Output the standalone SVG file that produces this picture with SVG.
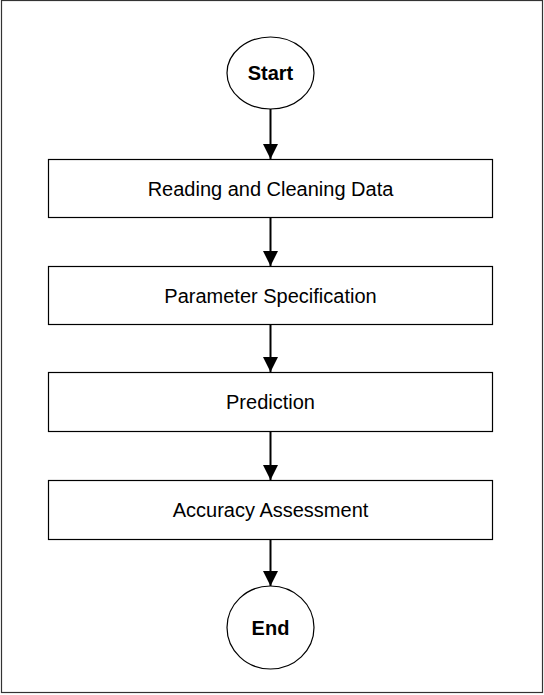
<svg xmlns="http://www.w3.org/2000/svg" width="544" height="695" viewBox="0 0 544 695">
<defs>
<style>
.frame{fill:#fff;stroke:#333;stroke-width:1.2}
.node{fill:#fff;stroke:#000;stroke-width:1.2}
.lbl{font-family:"Liberation Sans",Arial,sans-serif;font-size:20px;fill:#000;text-anchor:middle}
.bold{font-weight:bold}
.conn{stroke:#000;stroke-width:2;fill:none;marker-end:url(#ah)}
</style>
<marker id="ah" markerUnits="userSpaceOnUse" markerWidth="16" markerHeight="16" refX="15" refY="7.5" orient="auto">
<path d="M0,0 L15,7.5 L0,15 Z" fill="#000"/>
</marker>
</defs>
<rect class="frame" x="1.5" y="0.5" width="541" height="692"/>
<g id="connectors">
<line class="conn" x1="270.5" y1="109" x2="270.5" y2="159"/>
<line class="conn" x1="270.5" y1="217" x2="270.5" y2="266"/>
<line class="conn" x1="270.5" y1="324" x2="270.5" y2="372"/>
<line class="conn" x1="270.5" y1="431" x2="270.5" y2="480"/>
<line class="conn" x1="270.5" y1="539" x2="270.5" y2="586"/>
</g>
<g id="start">
<ellipse class="node" cx="270.5" cy="73" rx="43.5" ry="36"/>
<text class="lbl bold" x="270.5" y="80">Start</text>
</g>
<g id="reading">
<rect class="node" x="48.5" y="159.5" width="444" height="58"/>
<text class="lbl" x="270.5" y="195.5">Reading and Cleaning Data</text>
</g>
<g id="parameter">
<rect class="node" x="48.5" y="266.5" width="444" height="58"/>
<text class="lbl" x="270.5" y="302.5">Parameter Specification</text>
</g>
<g id="prediction">
<rect class="node" x="48.5" y="372.5" width="444" height="59"/>
<text class="lbl" x="270.5" y="409">Prediction</text>
</g>
<g id="accuracy">
<rect class="node" x="48.5" y="480.5" width="444" height="59"/>
<text class="lbl" x="270.5" y="517">Accuracy Assessment</text>
</g>
<g id="end">
<ellipse class="node" cx="270.5" cy="627.5" rx="43.5" ry="41.5"/>
<text class="lbl bold" x="270.5" y="635">End</text>
</g>
</svg>
